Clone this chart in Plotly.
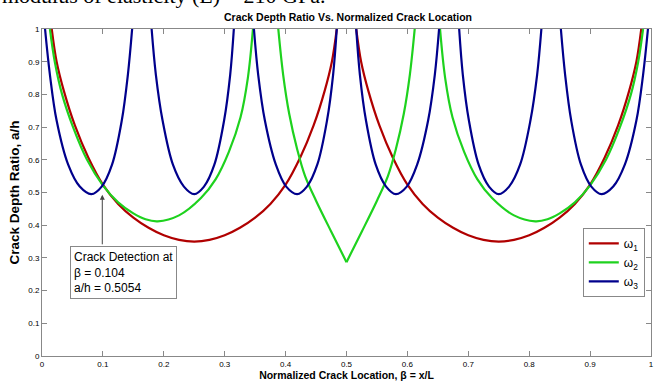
import plotly.graph_objects as go

# ---- data ----
red_beta = [0.016, 0.024, 0.036, 0.054, 0.076, 0.100, 0.125, 0.150, 0.175, 0.200, 0.225, 0.250,
            0.275, 0.300, 0.325, 0.350, 0.375, 0.400, 0.424, 0.446, 0.464, 0.476, 0.484, None,
            0.516, 0.524, 0.536, 0.554, 0.576, 0.600, 0.625, 0.650, 0.675, 0.700, 0.725, 0.750,
            0.775, 0.800, 0.825, 0.850, 0.875, 0.900, 0.924, 0.946, 0.964, 0.976, 0.984]
red_ratio = [1.0, 0.90, 0.81, 0.705, 0.607, 0.524, 0.465, 0.423, 0.392, 0.369, 0.355, 0.350,
             0.355, 0.369, 0.392, 0.423, 0.465, 0.524, 0.607, 0.705, 0.81, 0.90, 1.0, None,
             1.0, 0.90, 0.81, 0.705, 0.607, 0.524, 0.465, 0.423, 0.392, 0.369, 0.355, 0.350,
             0.355, 0.369, 0.392, 0.423, 0.465, 0.524, 0.607, 0.705, 0.81, 0.90, 1.0]

green_beta = [0.013, 0.021, 0.033, 0.051, 0.074, 0.100, 0.125, 0.150, 0.170, 0.190, 0.225,
              0.261, 0.285, 0.307, 0.326, 0.338, 0.3464, None,
              0.388, 0.396, 0.406, 0.419, 0.432, 0.450, 0.475, 0.500, None,
              0.500, 0.525, 0.550, 0.568, 0.581, 0.594, 0.604, 0.612, None,
              0.6536, 0.662, 0.674, 0.693, 0.715, 0.739, 0.775, 0.810, 0.830, 0.850, 0.875,
              0.900, 0.926, 0.949, 0.967, 0.979, 0.987]
green_ratio = [1.0, 0.90, 0.80, 0.70, 0.60, 0.522, 0.47, 0.436, 0.418, 0.412, 0.43,
               0.483, 0.54, 0.625, 0.73, 0.85, 1.0, None,
               1.0, 0.86, 0.74, 0.632, 0.55, 0.475, 0.38, 0.287, None,
               0.287, 0.38, 0.475, 0.55, 0.632, 0.74, 0.86, 1.0, None,
               1.0, 0.85, 0.73, 0.625, 0.54, 0.483, 0.43, 0.412, 0.418, 0.436, 0.47,
               0.522, 0.60, 0.70, 0.80, 0.90, 1.0]

blue_beta = [0.005, 0.013, 0.024, 0.043, 0.062, 0.081, 0.098, 0.115, 0.131, 0.141, 0.148, None,
             0.180, 0.187, 0.198, 0.215, 0.233, 0.250, 0.266, 0.283, 0.299, 0.309, 0.315, None,
             0.348, 0.355, 0.366, 0.384, 0.401, 0.419, 0.435, 0.452, 0.468, 0.478, 0.484, None,
             0.516, 0.522, 0.532, 0.548, 0.565, 0.581, 0.599, 0.616, 0.634, 0.645, 0.652, None,
             0.685, 0.691, 0.701, 0.717, 0.734, 0.750, 0.767, 0.785, 0.802, 0.813, 0.820, None,
             0.852, 0.859, 0.869, 0.885, 0.902, 0.919, 0.938, 0.957, 0.976, 0.987, 0.995]
blue_ratio = [1.0, 0.86, 0.72, 0.585, 0.518, 0.495, 0.518, 0.585, 0.72, 0.86, 1.0, None,
              1.0, 0.86, 0.72, 0.585, 0.518, 0.495, 0.518, 0.585, 0.72, 0.86, 1.0, None,
              1.0, 0.86, 0.72, 0.585, 0.518, 0.495, 0.518, 0.585, 0.72, 0.86, 1.0, None,
              1.0, 0.86, 0.72, 0.585, 0.518, 0.495, 0.518, 0.585, 0.72, 0.86, 1.0, None,
              1.0, 0.86, 0.72, 0.585, 0.518, 0.495, 0.518, 0.585, 0.72, 0.86, 1.0, None,
              1.0, 0.86, 0.72, 0.585, 0.518, 0.495, 0.518, 0.585, 0.72, 0.86, 1.0]

tick_vals = [0, 0.1, 0.2, 0.3, 0.4, 0.5, 0.6, 0.7, 0.8, 0.9, 1]
tick_text = ["0", "0.1", "0.2", "0.3", "0.4", "0.5", "0.6", "0.7", "0.8", "0.9", "1"]

detect_beta = 0.099
detect_ratio = 0.493
box_beta = 0.046
box_ratio = 0.337

series = [
    ("ω<sub>1</sub>", red_beta, red_ratio, "#b00000"),
    ("ω<sub>2</sub>", green_beta, green_ratio, "#1ed21e"),
    ("ω<sub>3</sub>", blue_beta, blue_ratio, "#00008c"),
]

fig = go.Figure()
for name, xs, ys, col in series:
    fig.add_trace(go.Scatter(x=xs, y=ys, mode="lines", name=name,
                             line=dict(color=col, width=2.2, shape="spline", smoothing=1.0),
                             connectgaps=False))

axis_common = dict(range=[0, 1], tickvals=tick_vals, ticktext=tick_text, ticks="inside",
                   ticklen=5, tickcolor="#888888", showline=True, linecolor="#888888",
                   linewidth=1, mirror="ticks", showgrid=False, zeroline=False,
                   tickfont=dict(family="Arial", size=8, color="black"))

fig.update_xaxes(**axis_common,
                 title=dict(text="<b>Normalized Crack Location, β = x/L</b>",
                            font=dict(family="Arial", size=10.5, color="black"), standoff=4))
fig.update_yaxes(**axis_common,
                 title=dict(text="<b>Crack Depth Ratio, a/h</b>",
                            font=dict(family="Arial", size=13.5, color="black"), standoff=5))

fig.update_layout(
    width=661, height=387,
    margin=dict(l=42, r=7, t=29, b=28),
    paper_bgcolor="white", plot_bgcolor="white",
    title=dict(text="<b>Crack Depth Ratio Vs. Normalized Crack Location</b>",
               font=dict(family="Arial", size=10.5, color="black"),
               x=348 / 661, xanchor="center", y=1 - 17 / 387, yanchor="middle"),
    showlegend=True,
    legend=dict(x=0.888, y=0.392, xanchor="left", yanchor="top",
                bordercolor="#888888", borderwidth=1, bgcolor="white",
                font=dict(family="Arial", size=12, color="black"),
                itemwidth=30, tracegroupgap=0),
)

# arrow
fig.add_annotation(x=detect_beta, y=detect_ratio, ax=detect_beta, ay=box_ratio,
                   xref="x", yref="y", axref="x", ayref="y", text="",
                   showarrow=True, arrowhead=2, arrowsize=1, arrowwidth=1, arrowcolor="#444444")
# text box
fig.add_annotation(x=box_beta, y=box_ratio, xref="x", yref="y", xanchor="left", yanchor="top",
                   text="Crack Detection at<br>β = 0.104<br>a/h = 0.5054", showarrow=False,
                   align="left", bordercolor="#888888", borderwidth=1, borderpad=3,
                   bgcolor="white", font=dict(family="Arial", size=12, color="black"))
# cut-off caption text from the page above the figure
fig.add_annotation(x=-42 / 612, y=1 + 19 / 330, xref="paper", yref="paper",
                   xanchor="left", yanchor="bottom", showarrow=False,
                   text="modulus of elasticity (E) = 210 GPa.",
                   font=dict(family="Liberation Serif", size=22, color="black"))

fig.write_html("out.html")
